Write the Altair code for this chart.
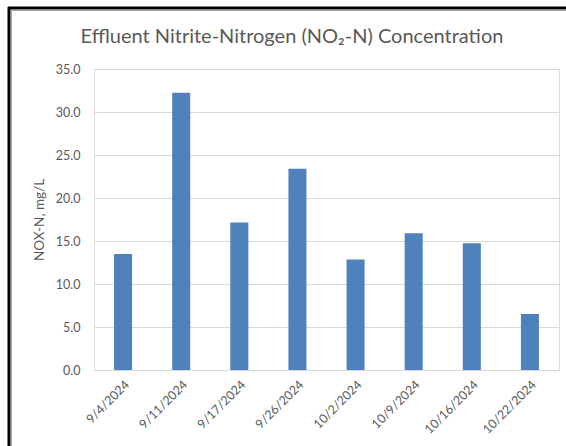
import altair as alt
import pandas as pd

dates = ["9/4/2024", "9/11/2024", "9/17/2024", "9/26/2024",
         "10/2/2024", "10/9/2024", "10/16/2024", "10/22/2024"]
values = [13.5, 32.25, 17.15, 23.4, 12.85, 15.9, 14.75, 6.5]
y_ticks = [0, 5, 10, 15, 20, 25, 30, 35]
title_text = "Effluent Nitrite-Nitrogen (NO₂-N) Concentration"

df = pd.DataFrame({"date": dates, "value": values})

FONT = "Lato"
GRAY = "#595959"

bars = alt.Chart(df).mark_bar(color="#4F81BD").encode(
    x=alt.X("date:N", sort=dates, title=None,
            scale=alt.Scale(paddingInner=0.69, paddingOuter=0.345),
            axis=alt.Axis(labelAngle=315, labelFontSize=12.5, labelColor=GRAY,
                          labelFont=FONT, ticks=False, domainColor="#D9D9D9",
                          labelPadding=8)),
    y=alt.Y("value:Q", title="NOX-N, mg/L",
            scale=alt.Scale(domain=[0, 35], nice=False),
            axis=alt.Axis(values=y_ticks, format=".1f", ticks=False, domain=False,
                          labelFontSize=12.5, labelColor=GRAY, labelFont=FONT,
                          labelPadding=14, gridColor="#D9D9D9", gridWidth=1,
                          titleFontSize=13.5, titleColor=GRAY, titleFont=FONT,
                          titleFontWeight="normal", titlePadding=9)),
)

one = alt.Data(values=[{"t": title_text}])
left_black = alt.Chart(one).mark_rule(color="black", strokeWidth=3).encode(
    x=alt.value(-85), y=alt.value(-62), y2=alt.value(377))
top_black = alt.Chart(one).mark_rule(color="black", strokeWidth=3).encode(
    x=alt.value(-86), x2=alt.value(472), y=alt.value(-61))
left_gray = alt.Chart(one).mark_rule(color="#A6A6A6", strokeWidth=1).encode(
    x=alt.value(-82.5), y=alt.value(-59), y2=alt.value(377))
top_gray = alt.Chart(one).mark_rule(color="#A6A6A6", strokeWidth=1).encode(
    x=alt.value(-83), x2=alt.value(472), y=alt.value(-58.5))
title = alt.Chart(one).mark_text(
    font=FONT, fontSize=20, color=GRAY, align="center", baseline="alphabetic"
).encode(text="t:N", x=alt.value(198), y=alt.value(-26))

chart = alt.layer(bars, left_black, top_black, left_gray, top_gray, title).properties(
    width=465, height=301,
    autosize=alt.AutoSizeParams(type="none"),
    padding={"left": 94, "top": 69, "right": 7, "bottom": 76},
).configure_view(stroke=None).configure(background="white")

chart.save("out.html", embed_options={"renderer": "svg", "actions": False})
